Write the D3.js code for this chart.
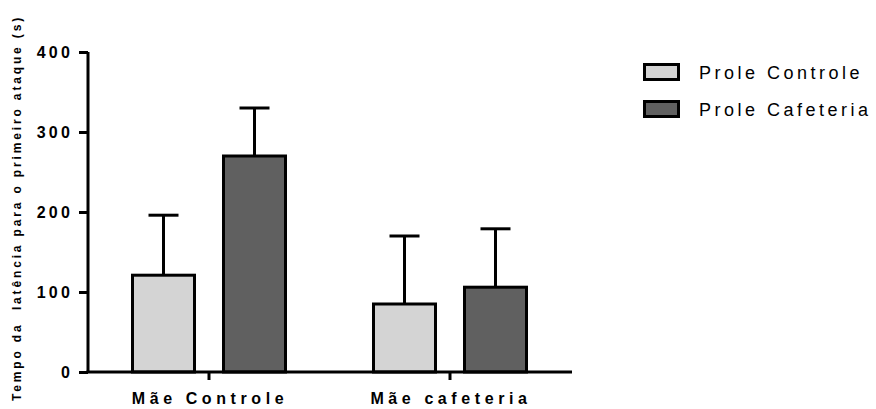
<!DOCTYPE html>
<html>
<head>
<meta charset="utf-8">
<script src="https://cdn.jsdelivr.net/npm/d3@7"></script>
<style>
  html, body { margin: 0; padding: 0; background: #fff; }
  svg { display: block; font-family: "Liberation Sans", Arial, sans-serif; }
</style>
</head>
<body>
<svg id="chart" width="876" height="409"></svg>
<script>
// Groups (mother's diet) and offspring series
const groups = ["Mãe Controle", "Mãe cafeteria"];
const seriesNames = ["Prole Controle", "Prole Cafeteria"];
const seriesColors = ["#d4d4d4", "#606060"];
// Mean latency (s) per group, one array per series
const proleControle = [121, 85];
const proleCafeteria = [270, 106];
// Upper error bar ends (mean + SEM)
const proleControleErr = [196, 170];
const proleCafeteriaErr = [330, 179];
const yTicks = [0, 100, 200, 300, 400];
const yTitle = "Tempo da  latência para o primeiro ataque (s)";

const svg = d3.select("#chart");
const x0 = 88, x1 = 572, yBottom = 372, yTop = 52;

const y = d3.scaleLinear().domain([0, 400]).range([yBottom, yTop]);
const xGroup = d3.scaleBand().domain(groups).range([88.5, 570.5]).paddingInner(0).paddingOuter(0);

// bar placement within each group
const barW = 62, gap = 29;
const series = [
  { name: seriesNames[0], vals: proleControle, err: proleControleErr, color: seriesColors[0] },
  { name: seriesNames[1], vals: proleCafeteria, err: proleCafeteriaErr, color: seriesColors[1] }
];
const xCenter = g => xGroup(g) + xGroup.bandwidth() / 2;
const barX = (g, i) => xCenter(g) + (i === 0 ? -(gap / 2 + barW) : gap / 2);

// Error bars (upper only), drawn behind bars
series.forEach((s, i) => {
  groups.forEach((g, j) => {
    const cx = barX(g, i) + barW / 2;
    svg.append("line").attr("x1", cx).attr("x2", cx)
      .attr("y1", y(s.vals[j])).attr("y2", y(s.err[j]))
      .attr("stroke", "#000").attr("stroke-width", 3);
    svg.append("line").attr("x1", cx - 15).attr("x2", cx + 15)
      .attr("y1", y(s.err[j])).attr("y2", y(s.err[j]))
      .attr("stroke", "#000").attr("stroke-width", 3);
  });
});

// Bars
series.forEach((s, i) => {
  svg.append("g").selectAll("rect").data(groups).join("rect")
    .attr("x", g => barX(g, i))
    .attr("y", (g, j) => y(s.vals[j]))
    .attr("width", barW)
    .attr("height", (g, j) => y(0) - y(s.vals[j]))
    .attr("fill", s.color)
    .attr("stroke", "#000").attr("stroke-width", 3);
});

// Y axis
const yAxis = svg.append("g").attr("transform", `translate(${x0},0)`)
  .call(d3.axisLeft(y).tickValues(yTicks).tickSize(9).tickPadding(6).tickFormat(d3.format("d")));
yAxis.select(".domain").attr("stroke-width", 3).attr("d", `M0,${yTop}V${yBottom}`);
yAxis.selectAll(".tick line").attr("stroke-width", 3);
yAxis.selectAll(".tick text")
  .attr("font-size", 16).attr("font-weight", "bold").attr("fill", "#000")
  .attr("letter-spacing", "3.2px").attr("dy", "0.36em")
  .attr("font-family", "'Liberation Sans', Arial, sans-serif");

// X axis
const xAxis = svg.append("g").attr("transform", `translate(0,${yBottom})`)
  .call(d3.axisBottom(xGroup).tickSize(8).tickPadding(13).tickSizeOuter(0));
xAxis.select(".domain").attr("stroke-width", 3).attr("d", `M${x0 - 1.5},0H${x1}`);
xAxis.selectAll(".tick line").attr("stroke-width", 3);
xAxis.selectAll(".tick text")
  .attr("font-size", 16).attr("font-weight", "bold").attr("fill", "#000")
  .attr("letter-spacing", "4.6px").attr("dx", "1px")
  .attr("font-family", "'Liberation Sans', Arial, sans-serif");

// Y axis title
svg.append("text")
  .attr("transform", "translate(21,208) rotate(-90)")
  .attr("text-anchor", "middle")
  .attr("font-size", 12).attr("font-weight", "bold")
  .attr("letter-spacing", "2.85px")
  .attr("xml:space", "preserve")
  .style("white-space", "pre")
  .text(yTitle);

// Legend
const legend = svg.append("g").attr("transform", "translate(643,63)");
series.forEach((s, i) => {
  const row = legend.append("g").attr("transform", `translate(0,${i * 37})`);
  row.append("rect").attr("x", 1.5).attr("y", 1.5).attr("width", 34).attr("height", 15)
    .attr("fill", s.color).attr("stroke", "#000").attr("stroke-width", 3);
  row.append("text").attr("x", 56).attr("y", 16)
    .attr("font-size", 18).attr("letter-spacing", "3.5px")
    .text(s.name);
});
</script>
</body>
</html>
